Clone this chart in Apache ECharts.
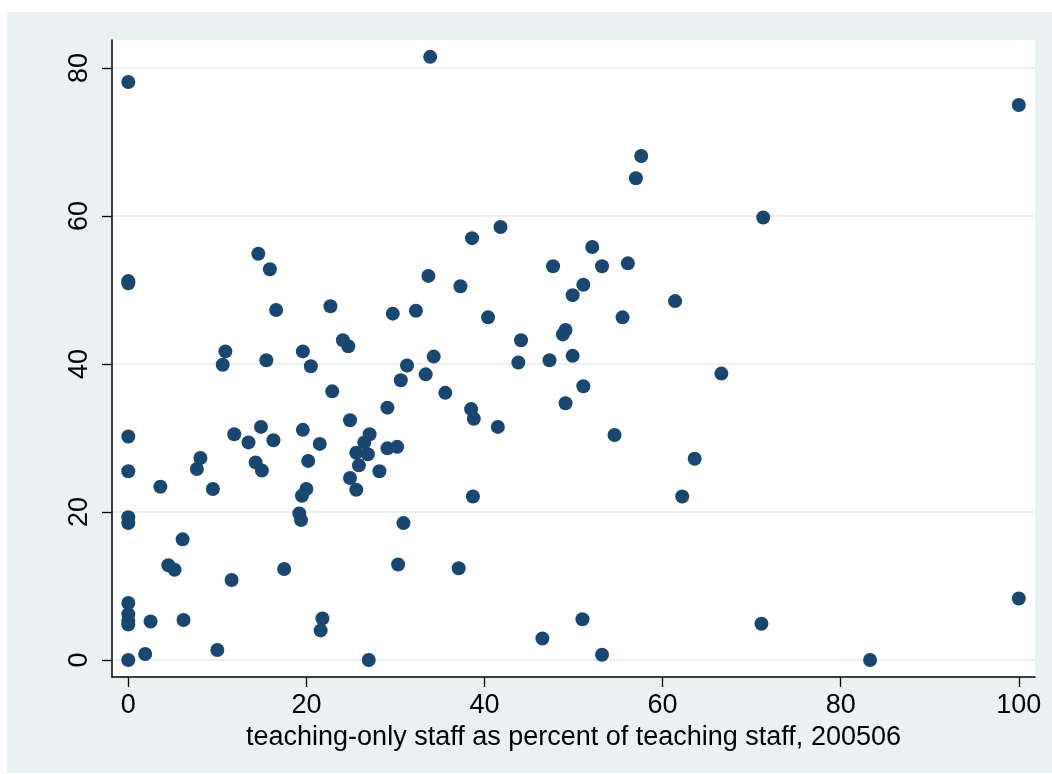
<!DOCTYPE html>
<html>
<head>
<meta charset="utf-8">
<script src="https://cdn.jsdelivr.net/npm/echarts@6/dist/echarts.min.js"></script>
<style>
  body { margin: 0; background: #fff; }
  #chart { position: absolute; left: 7px; top: 12px; width: 1045px; height: 761px; background: #eaf1f3; }
</style>
</head>
<body>
<div id="chart"></div>
<script>
// teaching-only staff % (x) vs. y value
var pctTeachOnly = [0, 33.9, 100, 57.6, 57.0, 71.3, 41.8, 38.6, 52.1, 14.6, 15.9, 47.7, 53.2, 56.1, 0, 0,
  33.7, 37.3, 51.1, 49.9, 61.4, 16.6, 22.7, 29.7, 32.3, 40.4, 55.5, 24.1, 24.7, 44.1, 49.1, 48.8,
  10.9, 10.6, 15.5, 19.6, 20.5, 34.3, 31.3, 43.8, 47.3, 49.9, 66.6, 33.4, 30.6, 51.1, 22.9, 35.6,
  49.1, 29.1, 38.5, 38.8, 24.9, 41.5, 54.6, 19.6, 21.5, 27.1, 26.5, 29.1, 30.2, 25.6, 26.9, 63.6,
  20.2, 25.9, 28.2, 24.9, 25.6, 20.0, 0, 11.9, 14.9, 13.5, 16.3, 8.1, 7.7, 14.3, 15.0, 0,
  3.6, 9.5, 19.5, 38.7, 62.2, 0, 0, 19.2, 19.4, 30.9, 6.1, 4.5, 5.2, 11.6, 17.5, 30.3,
  37.1, 0, 0, 0, 0, 2.5, 6.2, 21.8, 21.6, 51.0, 71.1, 100, 46.5, 53.2, 0, 1.9,
  10.0, 27.0, 83.3];
var yVals = [78.1, 81.5, 75.0, 68.1, 65.1, 59.8, 58.5, 57.0, 55.8, 54.9, 52.8, 53.2, 53.2, 53.6, 51.2, 50.9,
  51.9, 50.5, 50.7, 49.3, 48.5, 47.3, 47.8, 46.8, 47.2, 46.3, 46.3, 43.2, 42.4, 43.2, 44.6, 44.0,
  41.7, 39.9, 40.5, 41.7, 39.7, 41.0, 39.8, 40.2, 40.5, 41.1, 38.7, 38.6, 37.8, 37.0, 36.3, 36.1,
  34.7, 34.1, 33.9, 32.6, 32.4, 31.5, 30.4, 31.1, 29.2, 30.5, 29.4, 28.6, 28.8, 28.0, 27.8, 27.2,
  26.9, 26.3, 25.5, 24.6, 23.0, 23.1, 30.2, 30.5, 31.5, 29.4, 29.7, 27.3, 25.8, 26.7, 25.6, 25.5,
  23.4, 23.1, 22.2, 22.1, 22.1, 19.3, 18.5, 19.8, 18.9, 18.5, 16.3, 12.8, 12.2, 10.8, 12.3, 12.9,
  12.4, 7.7, 6.2, 5.3, 4.8, 5.2, 5.4, 5.6, 4.0, 5.5, 4.9, 8.3, 2.9, 0.7, 0, 0.8,
  1.35, 0, 0];
var xTicks = [0, 20, 40, 60, 80, 100];
var yTicks = [0, 20, 40, 60, 80];
var xTitle = 'teaching-only staff as percent of teaching staff, 200506';

var pts = pctTeachOnly.map(function (x, i) { return [x, yVals[i]]; });

var chart = echarts.init(document.getElementById('chart'));
var font = 'Liberation Sans, Arial, Helvetica, sans-serif';
chart.setOption({
  animation: false,
  grid: {
    left: 105, top: 28, width: 923, height: 637,
    show: true, backgroundColor: '#fff', borderWidth: 0
  },
  xAxis: {
    type: 'value',
    min: -1.83, max: 101.82,
    name: xTitle,
    nameLocation: 'middle',
    nameGap: 43,
    nameTextStyle: { fontFamily: font, fontSize: 27, color: '#000' },
    axisLine: { onZero: false, lineStyle: { color: '#000', width: 1.5 } },
    axisTick: { customValues: xTicks, length: 10, lineStyle: { color: '#000', width: 1.3 } },
    axisLabel: { customValues: xTicks, margin: 15, fontFamily: font, fontSize: 27, color: '#000' },
    splitLine: { show: false }
  },
  yAxis: {
    type: 'value',
    min: -2.3, max: 83.78,
    axisLine: { show: true, onZero: false, lineStyle: { color: '#000', width: 1.5 } },
    axisTick: { show: true, customValues: yTicks, length: 10, lineStyle: { color: '#000', width: 1.3 } },
    axisLabel: { customValues: yTicks, rotate: 90, margin: 19, fontFamily: font, fontSize: 27, color: '#000' },
    splitLine: { show: true, lineStyle: { color: '#eaf1f3', width: 2 } }
  },
  series: [{
    type: 'scatter',
    data: pts,
    symbol: 'circle',
    symbolSize: 14,
    itemStyle: { color: '#1a476f', opacity: 1 }
  }]
});
</script>
</body>
</html>
